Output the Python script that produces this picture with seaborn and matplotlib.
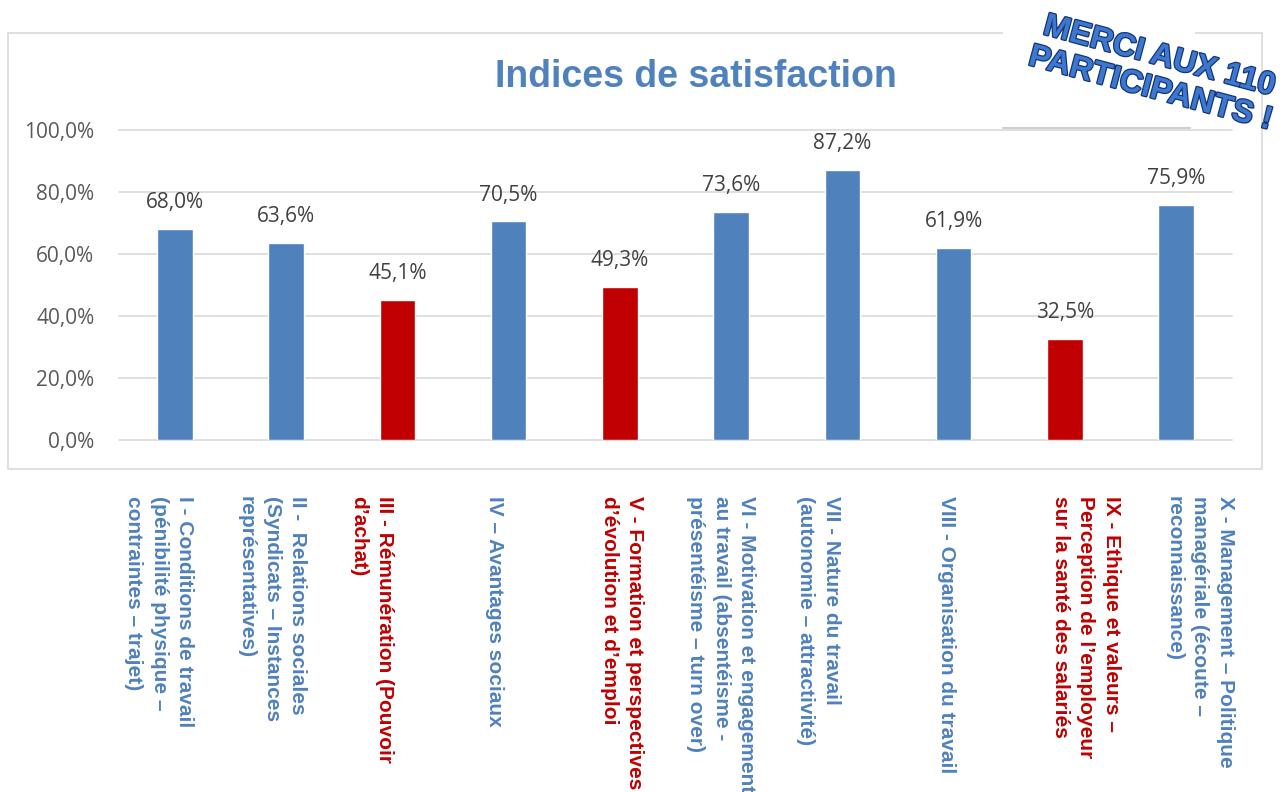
import matplotlib
matplotlib.use("Agg")
import matplotlib.pyplot as plt
import matplotlib.patheffects as pe
import matplotlib.transforms as mtransforms
from matplotlib.patches import Rectangle
import seaborn as sns

# data
labels = [
    "I - Conditions de travail\n(pénibilité physique –\ncontraintes – trajet)",
    "II -  Relations sociales\n(Syndicats – Instances\nreprésentatives)",
    "III - Rémunération (Pouvoir\nd’achat)",
    "IV – Avantages sociaux",
    "V - Formation et perspectives\nd’évolution et d’emploi",
    "VI - Motivation et engagement\nau travail (absentéisme -\nprésentéisme – turn over)",
    "VII - Nature du travail\n(autonomie – attractivité)",
    "VIII - Organisation du travail",
    "IX - Ethique et valeurs –\nPerception de l’employeur\nsur la santé des salariés",
    "X - Management – Politique\nmanagériale (écoute –\nreconnaissance)",
]
values = [0.680, 0.636, 0.451, 0.705, 0.493, 0.736, 0.872, 0.619, 0.325, 0.759]
low = [False, False, True, False, True, False, False, False, True, False]

# horizontal nudge (px) of each rotated label, as Excel laid them out
label_shift = [-16, -14, -26, -14, 2, -10, -24, -7, 21, 24]

BLUE = "#4F81BD"
RED = "#C00000"
colors = [RED if l else BLUE for l in low]

sns.set_style("white")
plt.rcParams["font.family"] = ["Liberation Sans", "DejaVu Sans"]

W, H = 1284, 792
fig = plt.figure(figsize=(W / 100, H / 100), dpi=100)
ax = fig.add_axes([119.4 / W, 1 - 440 / H, (1231.6 - 119.4) / W, 310 / H])

sns.barplot(x=labels, y=values, hue=labels, palette=colors, legend=False,
            width=0.32, saturation=1, ax=ax, zorder=3)

ax.set_ylim(0, 1.0)
ax.set_xlim(-0.5, len(labels) - 0.5)
ax.set_yticks([0, 0.2, 0.4, 0.6, 0.8, 1.0])
ax.set_yticklabels([f"{t * 100:.1f}%".replace(".", ",") for t in ax.get_yticks()],
                   fontsize=15, color="#595959", family="Open Sans")
ax.yaxis.grid(True, color="#D9D9D9", lw=1.2)
for g in ax.get_ygridlines():
    g.set_clip_on(False)
ax.set_axisbelow(True)
for s in ax.spines.values():
    s.set_visible(False)
ax.tick_params(axis="y", length=0, pad=18)
ax.tick_params(axis="x", length=0, pad=40)
ax.set_xlabel("")
ax.set_ylabel("")

ax.set_xticks(range(len(labels)))
ax.set_xticklabels(labels, rotation=-90, ha="center", va="top",
                   multialignment="left", fontsize=15, fontweight="bold",
                   linespacing=1.45)
for t, c, dx in zip(ax.get_xticklabels(), colors, label_shift):
    t.set_color(c)
    t.set_transform(t.get_transform() +
                    mtransforms.ScaledTranslation(dx / 100, 0, fig.dpi_scale_trans))

for i, v in enumerate(values):
    ax.annotate(f"{v * 100:.1f}%".replace(".", ","), (i, v), xytext=(0, 19),
                textcoords="offset points", ha="center", va="center",
                fontsize=15, color="#404040", family="Open Sans")

# chart frame
fig.add_artist(Rectangle((8 / W, 1 - 469 / H), (1262 - 8) / W, (469 - 33) / H,
                         transform=fig.transFigure, fill=False,
                         edgecolor="#D9D9D9", lw=1.2))

fig.text(696 / W, 1 - 77 / H, "Indices de satisfaction", ha="center", va="center",
         fontsize=27, fontweight="bold", color=BLUE)

# "merci" stamp in the corner
fig.add_artist(Rectangle((1003 / W, 1 - 128 / H), (1195 - 1003) / W, 128 / H,
                         transform=fig.transFigure, facecolor="white",
                         edgecolor="none", zorder=5))
fig.add_artist(plt.Line2D([1003 / W, 1190 / W], [1 - 128 / H, 1 - 128 / H],
                          transform=fig.transFigure, color="#D0D0D0", lw=1.5,
                          zorder=5))
fig.text(1155 / W, 1 - 73 / H, "MERCI AUX 110\nPARTICIPANTS !", rotation=-15,
         ha="center", va="center", multialignment="center", fontsize=23,
         fontweight="bold", color="#3D78CF", linespacing=1.15, zorder=6,
         path_effects=[pe.withStroke(linewidth=1.8, foreground="#14337A")])

fig.savefig("out.png", dpi=100)
